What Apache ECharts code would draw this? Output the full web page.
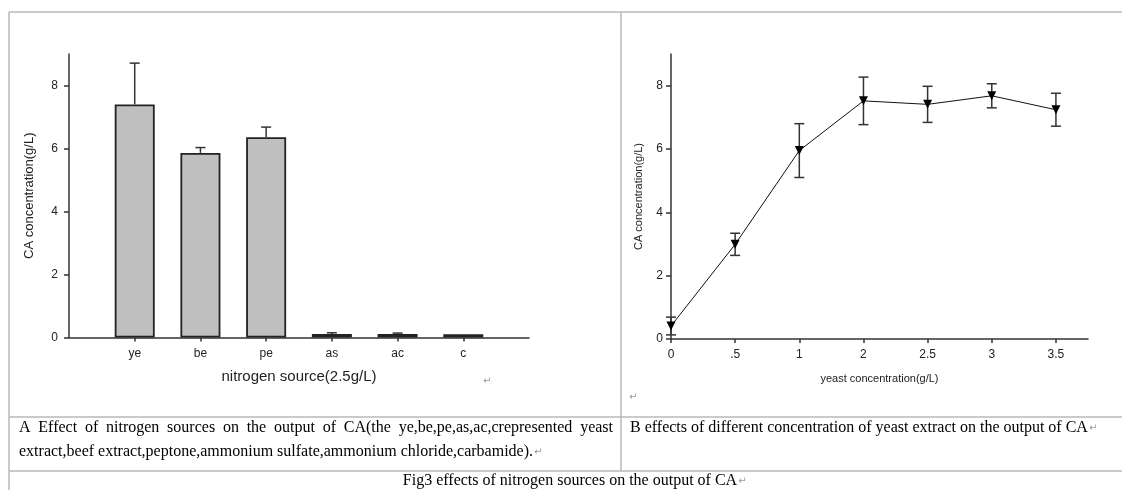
<!DOCTYPE html>
<html>
<head>
<meta charset="utf-8">
<script src="https://cdn.jsdelivr.net/npm/echarts@6/dist/echarts.min.js"></script>
<style>
html, body { margin: 0; padding: 0; background: #fff; }
#fig { width: 1122px; height: 490px; }
</style>
</head>
<body>
<div id="fig"></div>
<script>
// panel A: nitrogen sources (2.5 g/L)
const sources = ['ye', 'be', 'pe', 'as', 'ac', 'c'];
const sourceCA = [7.40, 5.86, 6.36, 0.11, 0.11, 0.10];
const sourceErr = [1.31, 0.17, 0.32, 0.04, 0.03, 0];

// panel B: yeast extract concentration
const yeastLabels = ['0', '.5', '1', '2', '2.5', '3', '3.5'];
const yeastCA = [0.41, 2.99, 5.95, 7.52, 7.41, 7.68, 7.24];
const yeastErr = [0.28, 0.35, 0.85, 0.75, 0.57, 0.38, 0.52];

const yTicks = [0, 2, 4, 6, 8];

const captionA1 = 'A Effect of nitrogen sources on the output of CA(the ye,be,pe,as,ac,crepresented yeast';
const captionA2 = 'extract,beef extract,peptone,ammonium sulfate,ammonium chloride,carbamide).';
const captionB = 'B effects of different concentration of yeast extract on the output of CA';
const figCaption = 'Fig3 effects of nitrogen sources on the output of CA';

const axisColor = '#333';
const sans = '"Liberation Sans", Arial, sans-serif';
const serifFont = '16px "Liberation Serif", "Times New Roman", serif';
const returnMark = '\u21B5';

const chart = echarts.init(document.getElementById('fig'));

// error bar drawn through the axes (value, +/- err)
const errorBar = (upperOnly, cap) => (params, api) => {
  const x = api.value(0);
  const mid = api.value(1);
  const e = api.value(2);
  if (!e) return null;
  const top = api.coord([x, mid + e]);
  const bot = api.coord([x, upperOnly ? mid : mid - e]);
  const style = { stroke: axisColor, lineWidth: 1.5 };
  const children = [
    { type: 'line', shape: { x1: top[0], y1: top[1], x2: bot[0], y2: bot[1] }, style },
    { type: 'line', shape: { x1: top[0] - cap, y1: top[1], x2: top[0] + cap, y2: top[1] }, style }
  ];
  if (!upperOnly) {
    children.push({ type: 'line', shape: { x1: bot[0] - cap, y1: bot[1], x2: bot[0] + cap, y2: bot[1] }, style });
  }
  return { type: 'group', children };
};

// justified first line of caption A
const ctx = document.createElement('canvas').getContext('2d');
ctx.font = serifFont;
const justify = (text, x0, x1, y) => {
  const words = text.split(' ');
  const widths = words.map(w => ctx.measureText(w).width);
  const gap = (x1 - x0 - widths.reduce((a, b) => a + b, 0)) / (words.length - 1);
  let x = x0;
  return words.map((w, i) => {
    const el = { type: 'text', x: x, y: y, style: { text: w, font: serifFont, fill: '#000', verticalAlign: 'middle' } };
    x += widths[i] + gap;
    return el;
  });
};

const border = (x1, y1, x2, y2) => ({
  type: 'line', shape: { x1, y1, x2, y2 }, style: { stroke: '#b8b8b8', lineWidth: 1.5 }, silent: true
});
const retMark = (x, y) => ({
  type: 'text', x, y, style: { text: returnMark, font: '10px "DejaVu Sans"', fill: '#999', verticalAlign: 'middle' }
});

const line2Width = ctx.measureText(captionA2).width;
const captionBWidth = ctx.measureText(captionB).width;
const figWidth = ctx.measureText(figCaption).width;

const baseY = (gi) => ({
  type: 'value', gridIndex: gi, min: 0, max: 9,
  name: 'CA concentration(g/L)', nameLocation: 'middle',
  axisLine: { show: true, lineStyle: { color: axisColor, width: 1.5 } },
  axisTick: { show: true, length: 5, customValues: yTicks, lineStyle: { color: axisColor, width: 1.5 } },
  splitLine: { show: false }
});

const option = {
  backgroundColor: '#fff',
  animation: false,
  grid: [
    { left: 69, top: 54, width: 460, height: 283.5 },
    { left: 671, top: 54, width: 417, height: 285 }
  ],
  xAxis: [
    {
      type: 'value', gridIndex: 0, min: 0, max: sources.length + 1,
      name: 'nitrogen source(2.5g/L)', nameLocation: 'middle', nameGap: 32,
      nameTextStyle: { fontSize: 15, color: '#222', fontFamily: sans },
      axisLine: { lineStyle: { color: axisColor, width: 1.5 } },
      axisTick: { length: 4, customValues: sources.map((s, i) => i + 1), lineStyle: { color: axisColor, width: 1.5 } },
      axisLabel: {
        customValues: sources.map((s, i) => i + 1), fontSize: 12, color: '#222', fontFamily: sans, margin: 10,
        formatter: v => sources[Math.round(v) - 1] || ''
      },
      splitLine: { show: false }
    },
    {
      type: 'value', gridIndex: 1, min: 0, max: yeastLabels.length - 0.5,
      name: 'yeast concentration(g/L)', nameLocation: 'middle', nameGap: 34,
      nameTextStyle: { fontSize: 11, color: '#222', fontFamily: sans },
      axisLine: { lineStyle: { color: axisColor, width: 1.5 } },
      axisTick: { length: 4, customValues: yeastLabels.map((s, i) => i), lineStyle: { color: axisColor, width: 1.5 } },
      axisLabel: {
        customValues: yeastLabels.map((s, i) => i), fontSize: 12, color: '#222', fontFamily: sans, margin: 10,
        formatter: v => yeastLabels[Math.round(v)]
      },
      splitLine: { show: false }
    }
  ],
  yAxis: [
    Object.assign(baseY(0), {
      nameGap: 33,
      nameTextStyle: { fontSize: 13, color: '#222', fontFamily: sans },
      axisLabel: { customValues: yTicks, color: '#222', fontFamily: sans, fontSize: 12, margin: 11 }
    }),
    Object.assign(baseY(1), {
      nameGap: 27,
      nameTextStyle: { fontSize: 11, color: '#222', fontFamily: sans },
      axisLabel: { customValues: yTicks, color: '#222', fontFamily: sans, fontSize: 12, margin: 8 }
    })
  ],
  series: [
    {
      type: 'bar', xAxisIndex: 0, yAxisIndex: 0, barWidth: 40,
      itemStyle: { color: '#c0c0c0', borderColor: '#222', borderWidth: 1.8 },
      data: sourceCA.map((v, i) => [i + 1, v])
    },
    {
      type: 'custom', xAxisIndex: 0, yAxisIndex: 0, z: 5,
      renderItem: errorBar(true, 5),
      data: sourceCA.map((v, i) => [i + 1, v, sourceErr[i]])
    },
    {
      type: 'line', xAxisIndex: 1, yAxisIndex: 1,
      symbol: 'triangle', symbolRotate: 180, symbolSize: 9,
      itemStyle: { color: '#000' },
      lineStyle: { color: '#111', width: 1 },
      data: yeastCA.map((v, i) => [i, v]), z: 6
    },
    {
      type: 'custom', xAxisIndex: 1, yAxisIndex: 1, z: 5,
      renderItem: errorBar(false, 5),
      data: yeastCA.map((v, i) => [i, v, yeastErr[i]])
    }
  ],
  graphic: [
    border(9, 12, 1122, 12),
    border(9, 12, 9, 490),
    border(621, 12, 621, 471),
    border(9, 417, 1122, 417),
    border(9, 471, 1122, 471),
    retMark(483, 381),
    retMark(629, 397),
    ...justify(captionA1, 19, 613, 428),
    { type: 'text', x: 19, y: 452, style: { text: captionA2, font: serifFont, fill: '#000', verticalAlign: 'middle' } },
    retMark(19 + line2Width + 1, 452),
    { type: 'text', x: 630, y: 428, style: { text: captionB, font: serifFont, fill: '#000', verticalAlign: 'middle' } },
    retMark(630 + captionBWidth + 1, 428),
    { type: 'text', x: 570 - figWidth / 2, y: 481, style: { text: figCaption, font: serifFont, fill: '#000', verticalAlign: 'middle' } },
    retMark(570 + figWidth / 2 + 1, 481)
  ]
};

chart.setOption(option);
</script>
</body>
</html>
